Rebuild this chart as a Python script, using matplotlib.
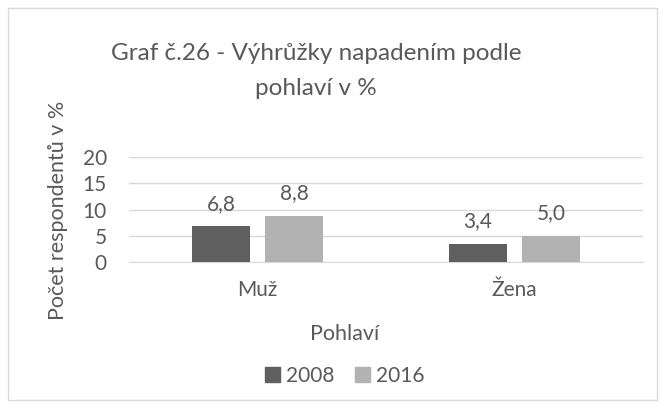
import matplotlib
matplotlib.use("Agg")
import matplotlib.pyplot as plt
from matplotlib.patches import Rectangle
import numpy as np

plt.rcParams['font.family'] = ['Lato', 'DejaVu Sans']

categories = ["Muž", "Žena"]
series_names = ["2008", "2016"]
values_2008 = [6.8, 3.4]
values_2016 = [8.8, 5.0]
yticks = [0, 5, 10, 15, 20]

title = "Graf č.26 - Výhrůžky napadením podle\npohlaví v %"
xlabel = "Pohlaví"
ylabel = "Počet respondentů v %"

colors = ["#5f5f5f", "#b2b2b2"]
text_color = "#595959"
grid_color = "#d9d9d9"

W, H = 666, 408
fig = plt.figure(figsize=(W / 100, H / 100), dpi=100)
fig.patches.append(Rectangle((8 / W, 8 / H), 649 / W, 392 / H, transform=fig.transFigure,
                             fill=False, edgecolor=grid_color, linewidth=1))

ax = fig.add_axes([129 / W, 1 - 262 / H, 514 / W, 105 / H])
x = np.arange(len(categories))
bw = 0.222
off = 0.142
for i, (vals, name) in enumerate(zip([values_2008, values_2016], series_names)):
    pos = x + (-off if i == 0 else off)
    bars = ax.bar(pos, vals, width=bw, color=colors[i], label=name, zorder=3)
    for b, v in zip(bars, vals):
        ax.annotate(f"{v:.1f}".replace(".", ","), (b.get_x() + b.get_width() / 2, v),
                    xytext=(0, 12), textcoords="offset points",
                    ha="center", va="baseline", fontsize=15, color=text_color)

ax.set_xlim(-0.5, 1.5)
ax.set_ylim(0, 20)
ax.set_yticks(yticks)
ax.set_xticks(x)
ax.set_xticklabels(categories)
ax.tick_params(axis="both", length=0, labelsize=15, colors=text_color)
ax.tick_params(axis="x", pad=13)
ax.tick_params(axis="y", pad=16)
for s in ["top", "right", "left"]:
    ax.spines[s].set_visible(False)
ax.spines["bottom"].set_color(grid_color)
ax.yaxis.grid(True, color=grid_color, linewidth=1, zorder=0)
ax.set_axisbelow(True)

fig.text(316 / W, 1 - 95 / H, title, ha="center", va="baseline", fontsize=17.5,
         color=text_color, linespacing=1.85)
fig.text(345 / W, 1 - 340 / H, xlabel, ha="center", va="baseline", fontsize=15.5, color=text_color)
fig.text(58 / W, 1 - 210 / H, ylabel, ha="center", va="center", rotation=90,
         fontsize=15.5, color=text_color)

handles = [Rectangle((0, 0), 1, 1, color=c) for c in colors]
fig.legend(handles, series_names, loc="center", bbox_to_anchor=(345 / W, 1 - 376 / H),
           ncol=2, frameon=False, fontsize=15, labelcolor=text_color,
           handlelength=0.7, handleheight=0.7, handletextpad=0.3, columnspacing=1.0)

fig.savefig("out.png", dpi=100)
